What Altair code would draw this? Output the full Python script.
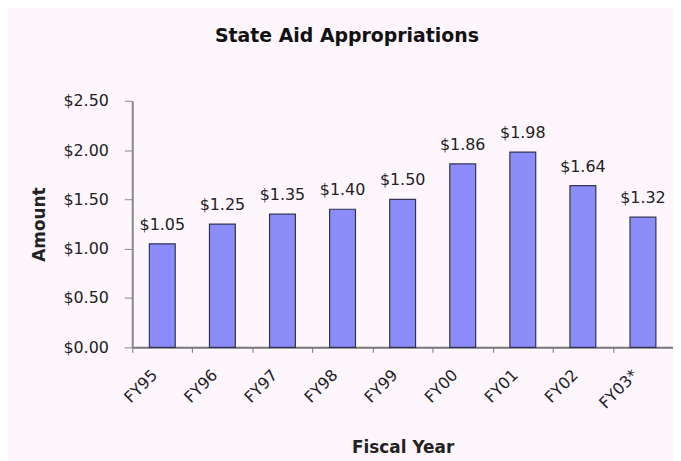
import altair as alt
import pandas as pd

years = ["FY95", "FY96", "FY97", "FY98", "FY99", "FY00", "FY01", "FY02", "FY03*"]
amounts = [1.05, 1.25, 1.35, 1.40, 1.50, 1.86, 1.98, 1.64, 1.32]
y_ticks = [0.0, 0.5, 1.0, 1.5, 2.0, 2.5]

df = pd.DataFrame({"year": years, "amount": amounts})
df["label"] = ["${:.2f}".format(v) for v in amounts]

FONT = "DejaVu Sans"

x_enc = alt.X(
    "year:N",
    sort=years,
    title="Fiscal Year",
    scale=alt.Scale(paddingInner=0, paddingOuter=0),
    axis=alt.Axis(
        labelAngle=-45,
        labelAlign="right",
        labelBaseline="middle",
        labelFont=FONT,
        labelFontSize=16,
        labelColor="#222222",
        labelPadding=20,
        labelOffset=-8,
        tickBand="extent",
        tickSize=5,
        tickColor="#777777",
        domainColor="#777777",
        domainWidth=2,
        titleFont=FONT,
        titleFontSize=17,
        titleFontWeight="bold",
        titleColor="#222222",
        titlePadding=29,
    ),
)

y_enc = alt.Y(
    "amount:Q",
    title="Amount",
    scale=alt.Scale(domain=[0, 2.5], nice=False),
    axis=alt.Axis(
        values=y_ticks,
        format="$.2f",
        grid=False,
        labelFont=FONT,
        labelFontSize=16,
        labelColor="#222222",
        labelPadding=16,
        tickSize=8,
        tickColor="#888888",
        domainColor="#888888",
        domainWidth=2,
        titleFont=FONT,
        titleFontSize=17,
        titleFontWeight="bold",
        titleColor="#222222",
        titlePadding=14,
    ),
)

bars = alt.Chart(df).mark_bar(
    size=26, color="#8C8CFA", stroke="#333355", strokeWidth=1.2
).encode(x=x_enc, y=y_enc)

labels = alt.Chart(df).mark_text(
    font=FONT, fontSize=16, color="#222222", baseline="alphabetic", dy=-14
).encode(x=alt.X("year:N", sort=years), y="amount:Q", text="label:N")

chart = (
    (bars + labels)
    .properties(
        width=544,
        height=248,
        autosize=alt.AutoSizeParams(type="none"),
        padding={"left": 125, "top": 92, "right": 0, "bottom": 113},
        background="#FDF6FD",
        title=alt.TitleParams(
            "State Aid Appropriations",
            font=FONT,
            fontSize=19,
            fontWeight="bold",
            color="#111111",
            anchor="middle",
            dx=-56,
            offset=32,
            baseline="alphabetic",
        ),
    )
    .configure_view(stroke=None)
)

chart.save("out.html", embed_options={"renderer": "svg", "actions": False})
